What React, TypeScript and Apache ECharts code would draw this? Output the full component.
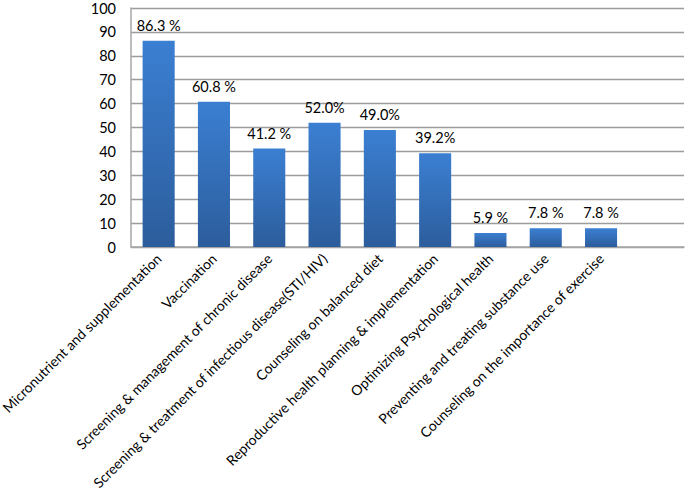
import React, { useEffect, useRef } from "react";
import * as echarts from "echarts";

const categories = [
  "Micronutrient and supplementation",
  "Vaccination",
  "Screening & management of chronic disease",
  "Screening & treatment of infectious disease(STI/HIV)",
  "Counseling on balanced diet",
  "Reproductive health planning & implementation",
  "Optimizing Psychological health",
  "Preventing and treating substance use",
  "Counseling on the importance of exercise",
  "",
];
const values: (number | null)[] = [86.3, 60.8, 41.2, 52.0, 49.0, 39.2, 5.9, 7.8, 7.8, null];
const valueLabels = ["86.3 %", "60.8 %", "41.2 %", "52.0%", "49.0%", "39.2%", "5.9 %", "7.8 %", "7.8 %", ""];
const yTicks = [0, 10, 20, 30, 40, 50, 60, 70, 80, 90, 100];

export default function App() {
  const ref = useRef<HTMLDivElement>(null);
  useEffect(() => {
    if (!ref.current) return;
    const chart = echarts.init(ref.current, null, { renderer: "svg" });
    const font = "Lato, 'Open Sans', sans-serif";
    chart.setOption({
      animation: false,
      grid: { left: 131, top: 8, right: 1, bottom: 248, containLabel: false, outerBoundsMode: "none" },
      xAxis: {
        type: "category",
        data: categories,
        axisLine: { show: true, lineStyle: { color: "#a6a6a6", width: 1.5 } },
        axisTick: { show: false },
        axisLabel: {
          rotate: 45,
          interval: 0,
          color: "#000",
          fontSize: 14,
          fontFamily: font,
          margin: 9,
        },
      },
      yAxis: {
        type: "value",
        min: yTicks[0],
        max: yTicks[yTicks.length - 1],
        interval: 10,
        axisLine: { show: true, lineStyle: { color: "#a6a6a6", width: 1.5 } },
        axisTick: { show: false },
        splitLine: { show: true, lineStyle: { color: "#9c9c9c", width: 1.3 } },
        axisLabel: { color: "#000", fontSize: 14.5, fontFamily: font, margin: 15, lineHeight: 14 },
      },
      series: [
        {
          type: "bar",
          data: values,
          barCategoryGap: "42%",
          itemStyle: {
            color: new echarts.graphic.LinearGradient(0, 0, 0, 1, [
              { offset: 0, color: "#3b7fd2" },
              { offset: 1, color: "#2c5d9c" },
            ]),
          },
          label: {
            show: true,
            position: "top",
            distance: 8,
            color: "#000",
            fontSize: 14.5,
            fontFamily: font,
            formatter: (p: any) => valueLabels[p.dataIndex],
          },
        },
      ],
    });
    return () => chart.dispose();
  }, []);
  return <div ref={ref} style={{ width: 685, height: 495, position: "absolute", left: 0, top: 0 }} />;
}
